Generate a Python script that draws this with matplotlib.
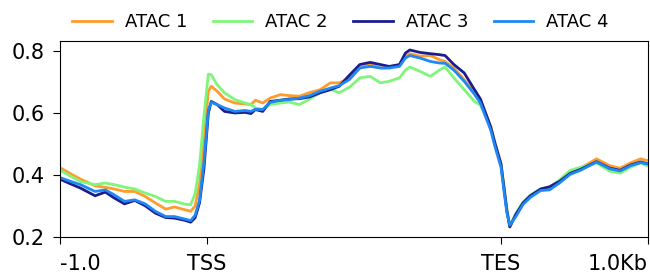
import numpy as np
import matplotlib
matplotlib.use("Agg")
from matplotlib import pyplot as plt

# bin index of each sample (0..400: 100 upstream, 200 body, 100 downstream)
bins = [0, 7, 14, 24, 31, 37, 44, 51, 58, 65, 72, 78, 85, 89, 92, 95, 98, 101,
        103, 107, 112, 119, 126, 130, 133, 138, 143, 150, 156, 163, 170, 177,
        184, 190, 197, 204, 211, 218, 224, 231, 235, 238, 245, 252, 258, 262,
        268, 275, 282, 286, 293, 296, 300, 302, 304, 306, 310, 315, 320, 327,
        333, 340, 347, 354, 365, 374, 381, 388, 395, 399]

atac1 = [.424, .405, .387, .365, .360, .355, .347, .347, .331, .310, .290, .297,
         .288, .283, .300, .370, .520, .670, .686, .670, .645, .632, .629, .627,
         .641, .632, .648, .659, .656, .654, .666, .675, .697, .697, .712, .745,
         .756, .745, .745, .756, .783, .791, .783, .785, .772, .766, .745, .707,
         .665, .640, .557, .503, .439, .363, .288, .232, .272, .310, .331, .353,
         .356, .379, .412, .422, .452, .430, .422, .439, .452, .447]
atac2 = [.416, .397, .379, .369, .374, .369, .361, .355, .342, .331, .315, .315,
         .306, .304, .340, .430, .590, .725, .723, .691, .665, .643, .632, .627,
         .616, .611, .627, .632, .635, .627, .645, .665, .677, .665, .683, .713,
         .718, .697, .702, .713, .738, .748, .734, .718, .738, .748, .713, .675,
         .637, .625, .555, .500, .435, .363, .290, .236, .275, .313, .336, .355,
         .360, .385, .415, .425, .439, .412, .406, .425, .439, .430]
atac3 = [.387, .372, .358, .333, .345, .326, .307, .318, .301, .277, .263, .261,
         .254, .248, .262, .310, .420, .600, .637, .627, .605, .600, .602, .598,
         .611, .605, .637, .641, .645, .646, .652, .665, .675, .686, .722, .756,
         .763, .756, .750, .756, .793, .803, .795, .791, .788, .785, .756, .729,
         .675, .645, .555, .500, .435, .360, .285, .233, .272, .310, .333, .355,
         .362, .380, .405, .418, .443, .422, .415, .432, .442, .437]
atac4 = [.392, .380, .369, .347, .352, .336, .315, .320, .307, .283, .266, .266,
         .258, .253, .270, .318, .440, .610, .634, .627, .616, .605, .608, .605,
         .612, .611, .634, .641, .643, .648, .656, .670, .680, .688, .708, .745,
         .750, .745, .745, .750, .777, .785, .777, .766, .761, .760, .738, .702,
         .660, .632, .545, .490, .425, .350, .278, .238, .265, .305, .328, .350,
         .352, .375, .402, .415, .442, .420, .413, .430, .440, .436]

labels = ["ATAC 1", "ATAC 2", "ATAC 3", "ATAC 4"]
colors = ["#ff9c2a", "#80f57a", "#1c1c8f", "#1f88f2"]
tick_pos = [0, 100, 300, 400]
tick_lab = ["-1.0", "TSS", "TES", "1.0Kb"]

fig = plt.figure(figsize=(6.5, 2.75), dpi=100)
ax = fig.add_axes([0.092, 0.138, 0.905, 0.713])

for y, lab, c in zip([atac1, atac2, atac3, atac4], labels, colors):
    ax.plot(bins, y, color=c, lw=2, label=lab)

ax.set_xlim(0, 400)
ax.set_ylim(0.2, 0.832)
ax.set_yticks([0.2, 0.4, 0.6, 0.8])
ax.set_xticks(tick_pos)
ax.set_xticklabels(tick_lab)
xl = ax.get_xticklabels()
xl[0].set_horizontalalignment("left")
xl[-1].set_horizontalalignment("right")
ax.tick_params(labelsize=15, length=5)
ax.tick_params(axis="x", pad=7)
ax.tick_params(axis="y", pad=6)

fig.legend(loc="center", bbox_to_anchor=(0.524, 0.92), ncol=4, frameon=False,
           fontsize=13, handlelength=2.2, handletextpad=0.72, columnspacing=1.4)

fig.savefig("out.png", dpi=100)
